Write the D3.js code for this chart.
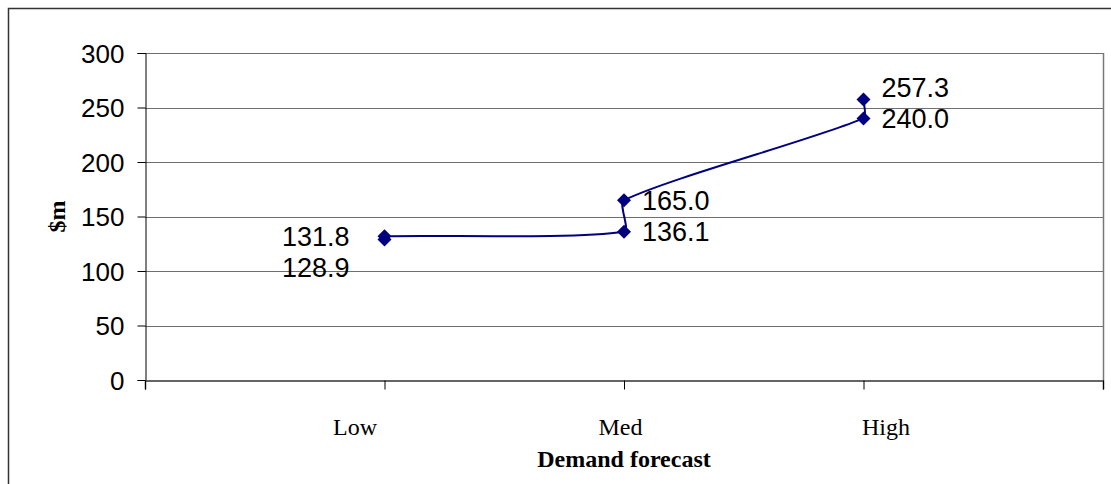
<!DOCTYPE html>
<html>
<head>
<meta charset="utf-8">
<script src="https://cdn.jsdelivr.net/npm/d3@7"></script>
<style>
  html, body { margin: 0; padding: 0; background: #fff; }
  svg { display: block; }
</style>
</head>
<body>
<svg id="chart" width="1111" height="484"></svg>
<script>
// Demand forecast scenarios and the cost ($m) estimated under each
const categories = ["Low", "Med", "High"];
const pointCategory = ["Low", "Low", "Med", "Med", "High", "High"];
const values = [128.9, 131.8, 136.1, 165.0, 240.0, 257.3];
const yTicks = [0, 50, 100, 150, 200, 250, 300];
const yTitle = "$m";
const xTitle = "Demand forecast";

const svg = d3.select("#chart");
const W = 1111, H = 484;
const plot = { left: 145, top: 53, right: 1103, bottom: 380 };
const sans = "'Liberation Sans', Arial, sans-serif";
const serif = "'Liberation Serif', 'Times New Roman', serif";

// Outer chart frame (runs off the right and bottom edges)
svg.append("rect")
  .attr("x", 8.5).attr("y", 8.5)
  .attr("width", W + 20).attr("height", H + 20)
  .attr("fill", "none").attr("stroke", "#333").attr("stroke-width", 1.5);

// x: categories sit at 1..n on a 0..n+1 axis
const x = d3.scaleLinear().domain([0, categories.length + 1]).range([plot.left, plot.right]);
// category captions are spread a little wider than the tick marks
const xCaption = d3.scaleLinear().domain([0, categories.length + 1]).range([plot.left - 56, plot.right + 48]);
const catIndex = c => categories.indexOf(c) + 1;
const y = d3.scaleLinear().domain([0, 300]).range([plot.bottom, plot.top]);

// Gridlines
svg.append("g")
  .selectAll("line")
  .data(yTicks.filter(t => t > 0))
  .join("line")
  .attr("x1", plot.left).attr("x2", plot.right)
  .attr("y1", d => Math.round(y(d)) + 0.5).attr("y2", d => Math.round(y(d)) + 0.5)
  .attr("stroke", "#6e6e6e").attr("stroke-width", 1);

// Plot area right border
svg.append("line")
  .attr("x1", plot.right + 0.5).attr("x2", plot.right + 0.5)
  .attr("y1", plot.top).attr("y2", plot.bottom)
  .attr("stroke", "#777").attr("stroke-width", 1.5);

// Y axis
const yAxis = svg.append("g")
  .attr("transform", `translate(${plot.left + 0.5},0)`)
  .call(d3.axisLeft(y).tickValues(yTicks).tickSize(8).tickPadding(13).tickFormat(d3.format("d")));
yAxis.select(".domain").attr("stroke", "#000");
yAxis.selectAll(".tick line").attr("stroke", "#000");
yAxis.selectAll("text")
  .attr("font-family", sans)
  .attr("font-size", 26).attr("fill", "#000").attr("dy", "0.35em");

// X axis
const xAxis = svg.append("g")
  .attr("transform", `translate(0,${plot.bottom + 0.5})`)
  .call(d3.axisBottom(x)
    .tickValues(d3.range(0, categories.length + 2))
    .tickSize(9).tickPadding(28)
    .tickFormat(i => categories[i - 1] || ""));
xAxis.select(".domain").attr("stroke", "#333").attr("stroke-width", 1.5);
xAxis.selectAll(".tick line").attr("stroke", "#000");
xAxis.selectAll("text")
  .attr("font-family", serif)
  .attr("font-size", 24).attr("fill", "#000")
  .attr("dx", i => xCaption(i) - x(i));

// Axis titles
svg.append("text")
  .attr("transform", `translate(65,${(plot.top + plot.bottom) / 2}) rotate(-90)`)
  .attr("text-anchor", "middle")
  .attr("font-family", serif)
  .attr("font-weight", "bold").attr("font-size", 24)
  .text(yTitle);

svg.append("text")
  .attr("x", x(2)).attr("y", 467)
  .attr("text-anchor", "middle")
  .attr("font-family", serif)
  .attr("font-weight", "bold").attr("font-size", 24)
  .text(xTitle);

// Series points
const pts = values.map((v, i) => ({ cat: pointCategory[i], v, px: x(catIndex(pointCategory[i])), py: y(v) }));

// Smoothed series line: cubic Bezier segments whose handles follow the
// neighbour-to-neighbour direction, scaled to each segment's own length.
const handle = 0.22;
function smoothPath(p) {
  const n = p.length;
  const dir = p.map((_, i) => {
    const a = p[Math.max(0, i - 1)], b = p[Math.min(n - 1, i + 1)];
    const dx = b.px - a.px, dy = b.py - a.py, len = Math.hypot(dx, dy) || 1;
    return [dx / len, dy / len];
  });
  const path = d3.path();
  path.moveTo(p[0].px, p[0].py);
  for (let i = 0; i < n - 1; i++) {
    const a = p[i], b = p[i + 1];
    const h = Math.hypot(b.px - a.px, b.py - a.py) * handle;
    path.bezierCurveTo(
      a.px + dir[i][0] * h, a.py + dir[i][1] * h,
      b.px - dir[i + 1][0] * h, b.py - dir[i + 1][1] * h,
      b.px, b.py);
  }
  return path.toString();
}

svg.append("path")
  .attr("d", smoothPath(pts))
  .attr("fill", "none")
  .attr("stroke", "#000080")
  .attr("stroke-width", 2);

// Diamond markers
const r = 7;
const diamond = `M0,${-r}L${r},0L0,${r}L${-r},0Z`;
svg.append("g")
  .selectAll("path")
  .data(pts)
  .join("path")
  .attr("transform", d => `translate(${d.px},${d.py})`)
  .attr("d", diamond)
  .attr("fill", "#000080");

// Value labels: left of the first category, right elsewhere;
// when two labels in a category collide, the outer one is moved away.
const lineGap = 31;
const labels = pts.map(d => ({ ...d, ly: d.py }));
categories.forEach((c, ci) => {
  const grp = labels.filter(l => l.cat === c).sort((a, b) => a.ly - b.ly);
  for (let k = 1; k < grp.length; k++) {
    if (grp[k].ly - grp[k - 1].ly < lineGap) {
      if (ci === 0) grp[k].ly = grp[k - 1].ly + lineGap;
      else grp[k - 1].ly = grp[k].ly - lineGap;
    }
  }
});

svg.append("g")
  .selectAll("text")
  .data(labels)
  .join("text")
  .attr("x", d => catIndex(d.cat) === 1 ? d.px - 35 : d.px + 18)
  .attr("y", d => d.ly)
  .attr("dy", "0.35em")
  .attr("text-anchor", d => catIndex(d.cat) === 1 ? "end" : "start")
  .attr("font-family", sans)
  .attr("font-size", 27)
  .attr("fill", "#000")
  .text(d => d.v.toFixed(1));
</script>
</body>
</html>
